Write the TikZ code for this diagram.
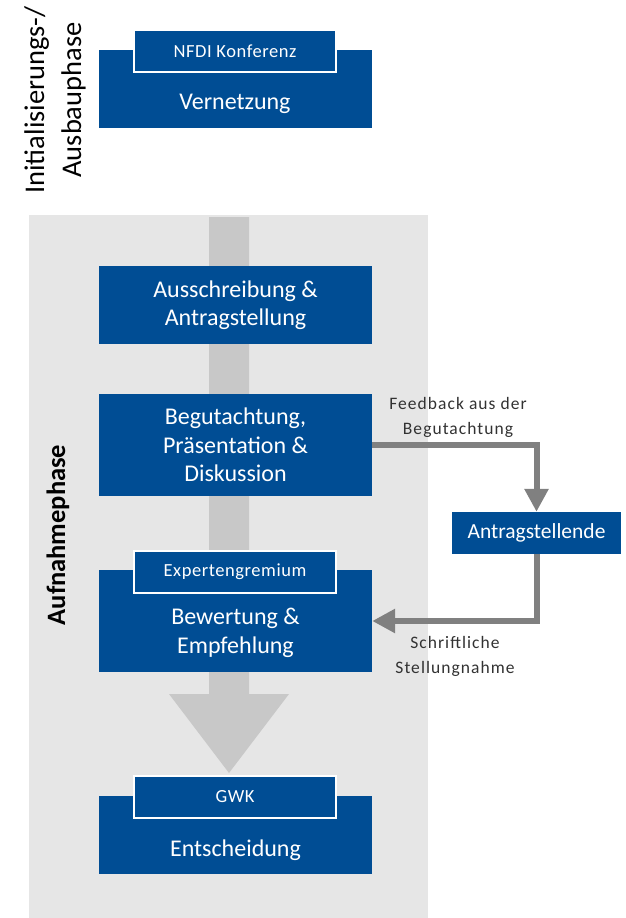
\documentclass[tikz,border=0pt]{standalone}
\usepackage{fontspec}
\setmainfont{Carlito}
\usetikzlibrary{arrows.meta}
\definecolor{boxblue}{RGB}{0,77,148}
\definecolor{bggray}{RGB}{230,230,230}
\definecolor{bargray}{RGB}{200,200,200}
\definecolor{conngray}{RGB}{128,128,128}
\definecolor{labelgray}{RGB}{50,50,50}
\tikzset{
  bigbox/.style={rectangle, fill=boxblue, inner sep=0pt, minimum width=273pt, text=white, align=center, font=\fontsize{24}{28.5}\selectfont},
  tagbox/.style={rectangle, fill=boxblue, draw=white, line width=2pt, inner sep=0pt, minimum width=202pt, minimum height=42pt, text=white, font=\fontsize{18.5}{22}\selectfont\addfontfeatures{LetterSpace=3}},
  conn/.style={draw=conngray, line width=6pt, -{Triangle[width=23pt,length=23pt]}},
  lbl/.style={text=labelgray, align=center, inner sep=0pt, font=\fontsize{17.5}{24.5}\selectfont\addfontfeatures{LetterSpace=6}},
  phase/.style={rotate=90, text=black, align=center, inner sep=0pt}
}
\begin{document}
\begin{tikzpicture}[x=1pt, y=-1pt]
\useasboundingbox (0,0) rectangle (625,918);
% background of phase
\fill[bggray] (29,215) rectangle (428,918);
% broad vertical flow arrow
\fill[bargray] (209,217) -- (249,217) -- (249,694) -- (289,694) -- (229,773) -- (169,694) -- (209,694) -- cycle;

% phase labels
\node[phase, font=\fontsize{28.5}{37}\selectfont] (ph1) at (55,100) {Initialisierungs-/\\Ausbauphase};
\node[phase, font=\fontsize{26.5}{30}\selectfont\bfseries] (ph2) at (58,535) {Aufnahmephase};

% top block
\node[bigbox, minimum height=78pt] (vern) at (235,89) {};
\node[text=white, font=\fontsize{24}{28.5}\selectfont] (verntxt) at (235,104) {Vernetzung};
\node[tagbox] (nfdi) at (235,51) {NFDI Konferenz};

% process boxes
\node[bigbox, minimum height=78pt] (aus) at (235.5,305) {Ausschreibung \&\\Antragstellung};
\node[bigbox, minimum height=102pt] (beg) at (235.5,445) {Begutachtung,\\Präsentation \&\\Diskussion};
\node[bigbox, minimum height=102pt] (bew) at (235.5,621) {};
\node[text=white, align=center, font=\fontsize{24}{28.5}\selectfont] (bewtxt) at (235.5,633) {Bewertung \&\\Empfehlung};
\node[tagbox] (exp) at (235,572) {Expertengremium};
\node[bigbox, minimum height=78pt] (ent) at (235.5,835) {};
\node[text=white, font=\fontsize{24}{28.5}\selectfont] (enttxt) at (235.5,850) {Entscheidung};
\node[tagbox] (gwk) at (235,797) {GWK};

% applicants
\node[rectangle, fill=boxblue, inner sep=0pt, minimum width=169pt, minimum height=42pt, text=white, font=\fontsize{21.5}{26}\selectfont] (ant) at (536.5,533) {Antragstellende};

% feedback loop
\draw[conn] (beg.east) -| (ant.north);
\draw[conn] (ant.south) |- (bew.east);

% connector labels
\node[lbl] (fb) at (458,417.5) {Feedback aus der\\Begutachtung};
\node[lbl] (st) at (455,656.5) {Schriftliche\\Stellungnahme};
\end{tikzpicture}
\end{document}
